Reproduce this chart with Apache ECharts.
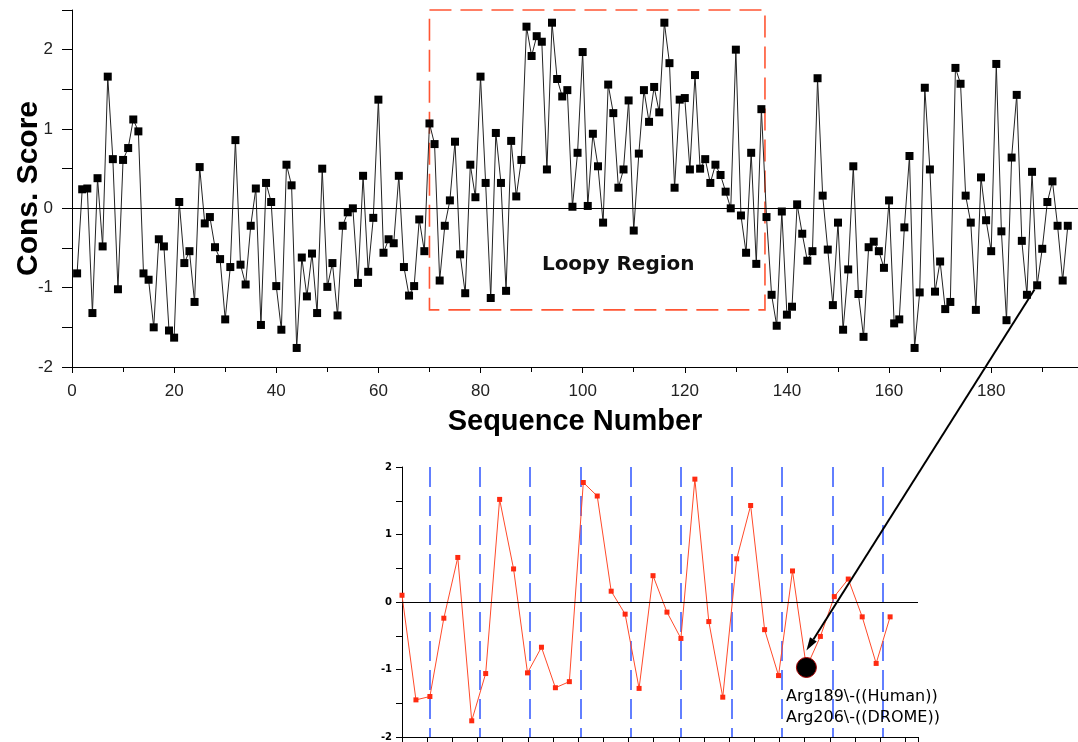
<!DOCTYPE html>
<html>
<head>
<meta charset="utf-8">
<title>Cons. Score</title>
<script src="https://cdn.jsdelivr.net/npm/echarts@6/dist/echarts.min.js"></script>
<style>
  * { margin: 0; padding: 0; }
  body { background: #fff; }
  #chart { width: 1078px; height: 742px; }
</style>
</head>
<body>
<div id="chart"></div>
<script>
  // conservation score per residue, residues 1..195
  var firstSeq = 1
  var scores = [
    -0.82, 0.24, 0.25, -1.32, 0.38, -0.48, 1.66, 0.62, -1.02, 0.61,
    0.76, 1.12, 0.97, -0.82, -0.90, -1.50, -0.39, -0.48, -1.54, -1.63,
    0.08, -0.69, -0.54, -1.18, 0.52, -0.19, -0.11, -0.49, -0.64, -1.40,
    -0.74, 0.86, -0.71, -0.96, -0.22, 0.25, -1.47, 0.32, 0.08, -0.98,
    -1.53, 0.55, 0.29, -1.76, -0.62, -1.11, -0.57, -1.32, 0.50, -0.99,
    -0.69, -1.35, -0.22, -0.05, 0.00, -0.94, 0.41, -0.80, -0.12, 1.37,
    -0.56, -0.39, -0.44, 0.41, -0.74, -1.10, -0.98, -0.14, -0.54, 1.07,
    0.81, -0.91, -0.22, 0.10, 0.84, -0.58, -1.07, 0.55, 0.14, 1.66,
    0.32, -1.13, 0.95, 0.32, -1.04, 0.85, 0.15, 0.61, 2.29, 1.92,
    2.17, 2.10, 0.49, 2.34, 1.63, 1.41, 1.49, 0.02, 0.70, 1.97,
    0.03, 0.94, 0.53, -0.18, 1.56, 1.20, 0.26, 0.49, 1.36, -0.28,
    0.69, 1.49, 1.09, 1.53, 1.21, 2.34, 1.83, 0.26, 1.37, 1.39,
    0.49, 1.68, 0.50, 0.62, 0.32, 0.55, 0.42, 0.21, 0.00, 2.00,
    -0.09, -0.56, 0.70, -0.70, 1.25, -0.11, -1.09, -1.48, -0.04, -1.34,
    -1.24, 0.05, -0.32, -0.66, -0.54, 1.64, 0.16, -0.52, -1.22, -0.18,
    -1.53, -0.77, 0.53, -1.08, -1.62, -0.49, -0.42, -0.54, -0.75, 0.10,
    -1.45, -1.40, -0.24, 0.66, -1.76, -1.06, 1.52, 0.49, -1.05, -0.67,
    -1.27, -1.18, 1.77, 1.57, 0.16, -0.18, -1.28, 0.39, -0.15, -0.54,
    1.82, -0.29, -1.41, 0.64, 1.43, -0.41, -1.09, 0.46, -0.97, -0.51,
    0.08, 0.34, -0.22, -0.91, -0.22
  ]

  // loopy region box (sequence numbers / score)
  var loopyStart = 70
  var loopyEnd = 135.7
  var loopyLow = -1.28
  var loopyHigh = 2.5

  // zoomed inset starts here, highlighted residue
  var insetStart = 160
  var highlightSeq = 189
  var highlightLabels = ['Arg189\\-((Human))', 'Arg206\\-((DROME))']

  var yTicks = ['-2', '-1', '0', '1', '2']

  var mainData = scores.map(function (v, i) { return [firstSeq + i, v] })
  var insetData = mainData.filter(function (p) { return p[0] >= insetStart })
  var highlightPoint = mainData.filter(function (p) { return p[0] === highlightSeq })

  var chart = echarts.init(document.getElementById('chart'))

  chart.setOption({
    animation: false,
    grid: [
      { left: 72, top: 10, width: 1006, height: 357, containLabel: false, outerBoundsMode: 'none' },
      { left: 402, top: 467, width: 516, height: 270, containLabel: false, outerBoundsMode: 'none' },
      { left: 429.3, top: 467, width: 488.7, height: 270, containLabel: false, outerBoundsMode: 'none' }
    ],
    xAxis: [
      {
        gridIndex: 0, type: 'value', min: 0, max: 197, interval: 20, position: 'bottom',
        axisLine: { onZero: false, lineStyle: { color: '#000', width: 1 } },
        axisTick: { length: 6, lineStyle: { color: '#000' } },
        minorTick: { show: true, splitNumber: 2, length: 5, lineStyle: { color: '#000' } },
        axisLabel: { fontSize: 17, margin: 16, color: '#222', fontFamily: 'Liberation Sans',
          formatter: function (v) { return v <= 180 ? String(v) : '' } },
        splitLine: { show: false },
        name: 'Sequence Number', nameLocation: 'middle', nameGap: 40, nameMoveOverlap: false,
        nameTextStyle: { fontSize: 29, fontWeight: 'bold', color: '#000', fontFamily: 'Liberation Sans' }
      },
      // inset data axis
      { gridIndex: 1, type: 'value', min: insetStart, max: 197, show: false, position: 'bottom' },
      // inset tick axis (no labels)
      {
        gridIndex: 1, type: 'value', min: 0, max: 20.5, interval: 1, position: 'bottom',
        axisLine: { onZero: false, lineStyle: { color: '#000', width: 1 } },
        axisTick: { length: 5, lineStyle: { color: '#000' } },
        axisLabel: { show: false }, splitLine: { show: false }
      },
      // blue dashed guides
      {
        gridIndex: 2, type: 'value', min: 0, max: 19.4, interval: 2, position: 'bottom',
        axisLine: { show: false }, axisTick: { show: false }, axisLabel: { show: false },
        splitLine: { show: true, showMaxLine: false,
          lineStyle: { color: '#2f55ff', width: 1.5, type: [20, 9] } }
      }
    ],
    yAxis: [
      {
        gridIndex: 0, type: 'value', min: -2, max: 2.5, interval: 1,
        axisLine: { show: true, onZero: false, lineStyle: { color: '#000', width: 1 } },
        axisTick: { show: true, length: 10, lineStyle: { color: '#000' } },
        minorTick: { show: true, splitNumber: 2, length: 10, lineStyle: { color: '#000' } },
        axisLabel: { fontSize: 17, margin: 19, color: '#222', fontFamily: 'Liberation Sans',
          formatter: function (v) { return yTicks.indexOf(String(v)) >= 0 ? String(v) : '' } },
        splitLine: { show: false },
        name: 'Cons. Score', nameLocation: 'middle', nameGap: 28, nameRotate: 90, nameMoveOverlap: false,
        nameTextStyle: { fontSize: 30, fontWeight: 'bold', color: '#000', fontFamily: 'Liberation Sans' }
      },
      {
        gridIndex: 1, type: 'value', min: -2, max: 2, interval: 1,
        axisLine: { show: true, onZero: false, lineStyle: { color: '#000', width: 1 } },
        axisTick: { show: true, length: 6, lineStyle: { color: '#000' } },
        minorTick: { show: true, splitNumber: 2, length: 6, lineStyle: { color: '#000' } },
        axisLabel: { fontSize: 10, margin: 10, color: '#000', fontWeight: 'bold', fontFamily: 'DejaVu Sans' },
        splitLine: { show: false }
      },
      { gridIndex: 2, type: 'value', min: -2, max: 2, show: false }
    ],
    series: [
      {
        name: 'score', type: 'line', xAxisIndex: 0, yAxisIndex: 0,
        data: mainData, showAllSymbol: true,
        symbol: 'rect', symbolSize: 8,
        itemStyle: { color: '#000' },
        lineStyle: { color: '#222', width: 1 },
        z: 3,
        markLine: {
          silent: true, symbol: 'none', label: { show: false },
          lineStyle: { color: '#000', width: 1, type: 'solid' },
          data: [{ yAxis: 0 }]
        },
        markArea: {
          silent: true,
          itemStyle: { color: 'rgba(0,0,0,0)', borderColor: '#ff5533', borderWidth: 1.6, borderType: [22, 9] },
          label: {
            show: true, position: 'insideBottom', distance: 36, offset: [21, 0],
            fontSize: 20, fontWeight: 'bold', color: '#111', fontFamily: 'DejaVu Sans'
          },
          data: [[
            { name: 'Loopy Region', xAxis: loopyStart, yAxis: loopyHigh },
            { xAxis: loopyEnd, yAxis: loopyLow }
          ]]
        }
      },
      {
        name: 'inset', type: 'line', xAxisIndex: 1, yAxisIndex: 1,
        data: insetData, showAllSymbol: true,
        symbol: 'rect', symbolSize: 5,
        itemStyle: { color: '#ff2a10' },
        lineStyle: { color: '#ff4a2a', width: 1 },
        z: 3,
        markLine: {
          silent: true, symbol: 'none', label: { show: false },
          lineStyle: { color: '#000', width: 1, type: 'solid' },
          data: [{ yAxis: 0 }]
        }
      },
      {
        name: 'highlight', type: 'scatter', xAxisIndex: 1, yAxisIndex: 1,
        data: highlightPoint, symbol: 'circle', symbolSize: 20,
        itemStyle: { color: '#000', opacity: 1, borderColor: '#a00', borderWidth: 1 },
        z: 5,
        label: {
          show: true, position: [-10, 29], align: 'left', verticalAlign: 'top',
          formatter: highlightLabels.join('\n'), opacity: 1,
          fontSize: 16, lineHeight: 21, color: '#000', fontFamily: 'DejaVu Sans'
        }
      }
    ]
  })

  // arrow from the residue in the main plot to the same residue in the inset
  var hv = highlightPoint[0]
  var p1 = chart.convertToPixel({ xAxisIndex: 0, yAxisIndex: 0 }, hv)
  var p2 = chart.convertToPixel({ xAxisIndex: 1, yAxisIndex: 1 }, hv)
  var tip = [p2[0], p2[1] - 17]
  var dx = tip[0] - p1[0], dy = tip[1] - p1[1]
  var len = Math.sqrt(dx * dx + dy * dy)
  var ux = dx / len, uy = dy / len
  var start = [p1[0] + ux * 5, p1[1] + uy * 5]
  var headLen = 13, headW = 4
  var base = [tip[0] - ux * headLen, tip[1] - uy * headLen]

  chart.setOption({
    graphic: [
      {
        type: 'line', silent: true, z: 10,
        shape: { x1: start[0], y1: start[1], x2: base[0], y2: base[1] },
        style: { stroke: '#000', lineWidth: 2 }
      },
      {
        type: 'polygon', silent: true, z: 10,
        shape: { points: [
          tip,
          [base[0] - uy * headW, base[1] + ux * headW],
          [base[0] + uy * headW, base[1] - ux * headW]
        ] },
        style: { fill: '#000' }
      }
    ]
  })
</script>
</body>
</html>
